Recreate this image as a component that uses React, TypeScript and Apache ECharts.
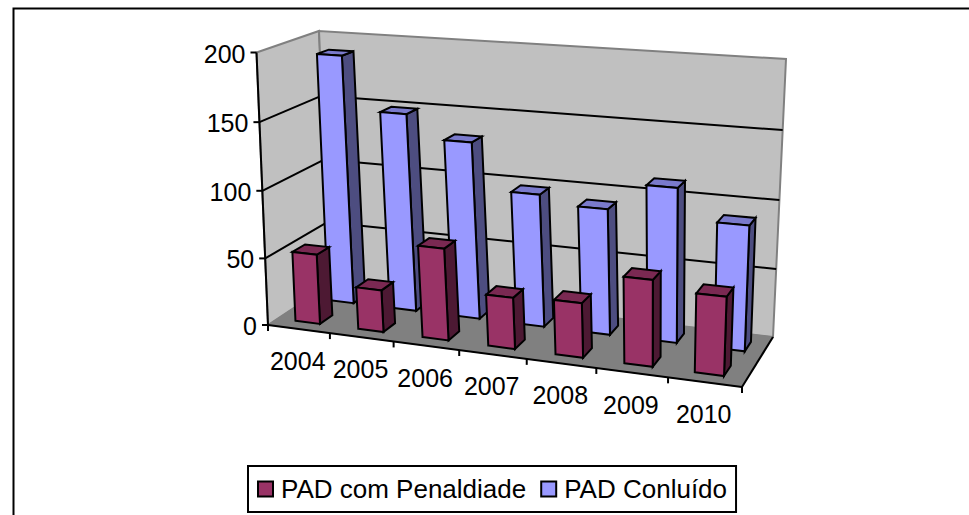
import React, { useEffect, useRef } from "react";
import * as echarts from "echarts";

const categories = ["2004", "2005", "2006", "2007", "2008", "2009", "2010"];
const penalidade = [52, 31, 67, 37, 39, 61, 55];
const concluido = [189, 149, 132, 98, 92, 112, 90];
const yTicks = [0, 50, 100, 150, 200];
const seriesNames = ["PAD com Penaldiade", "PAD Conluído"];

const FLOOR = [[268, 325], [742, 387], [773, 337], [330, 284]];
const TOP = [[256.5, 52.5], [755, 88], [786, 59], [319, 31]];
const FONT = "'Liberation Sans', Arial, sans-serif";
const FS = 25;

function homography(q: number[][]) {
  const [[x0, y0], [x1, y1], [x2, y2], [x3, y3]] = q;
  const dx1 = x1 - x2, dx2 = x3 - x2, sx = x0 - x1 + x2 - x3;
  const dy1 = y1 - y2, dy2 = y3 - y2, sy = y0 - y1 + y2 - y3;
  const den = dx1 * dy2 - dx2 * dy1;
  const g = (sx * dy2 - dx2 * sy) / den;
  const h = (dx1 * sy - sx * dy1) / den;
  const a = x1 - x0 + g * x1, b = x3 - x0 + h * x3, c = x0;
  const d = y1 - y0 + g * y1, e = y3 - y0 + h * y3, f = y0;
  return (u: number, v: number) => {
    const w = g * u + h * v + 1;
    return [(a * u + b * v + c) / w, (d * u + e * v + f) / w];
  };
}
const floorH = homography(FLOOR);
const topH = homography(TOP);

// u: category position 0..1, d: depth 0..1, t: value fraction 0..1
function project(u: number, d: number, t: number) {
  const p = floorH(u, d), q = topH(u, d);
  const tt = t - 0.03 * t * (1 - t);
  return [p[0] + (q[0] - p[0]) * tt, p[1] + (q[1] - p[1]) * tt];
}

// normalised position from the hidden cartesian axes
function norm(api: any, params: any, cat: number, value: number) {
  const pt = api.coord([cat, value]);
  const size = api.size([1, 0]);
  const cs = params.coordSys;
  return {
    u: (pt[0] - cs.x) / cs.width,
    t: (cs.y + cs.height - pt[1]) / cs.height,
    bw: size[0] / cs.width,
  };
}

function barRender(d0: number, d1: number, bulge: number, shift: number, half: number, front: string, side: string, top: string) {
  return (params: any, api: any) => {
    const { u, t, bw } = norm(api, params, api.value(0), api.value(1));
    const uc = u + bulge * u * (1 - u) + shift;
    const u0 = uc - bw * half, u1 = uc + bw * half;
    const stroke = { stroke: "#000", lineWidth: 2, lineJoin: "miter" };
    const poly = (pts: number[][], fill: string) => ({
      type: "polygon", shape: { points: pts }, style: { fill, ...stroke },
    });
    return {
      type: "group",
      children: [
        poly([project(u1, d0, 0), project(u1, d1, 0), project(u1, d1, t), project(u1, d0, t)], side),
        poly([project(u0, d0, t), project(u1, d0, t), project(u1, d1, t), project(u0, d1, t)], top),
        poly([project(u0, d0, 0), project(u1, d0, 0), project(u1, d0, t), project(u0, d0, t)], front),
      ],
    };
  };
}

const seg = (a: number[], b: number[], stroke: string, lineWidth: number) => ({
  type: "line",
  shape: { x1: a[0], y1: a[1], x2: b[0], y2: b[1] },
  style: { stroke, lineWidth },
});

function App() {
  const ref = useRef<HTMLDivElement>(null);
  useEffect(() => {
    const chart = echarts.init(ref.current!, undefined, { renderer: "svg" });
    chart.setOption({
      animation: false,
      backgroundColor: "#fff",
      grid: { left: 100, right: 100, top: 100, bottom: 100 },
      xAxis: { type: "category", data: categories, show: false },
      yAxis: { type: "value", min: 0, max: 200, show: false },
      legend: {
        data: seriesNames,
        left: 248,
        top: 466,
        width: 486,
        orient: "horizontal",
        padding: [10, 9, 10, 9],
        itemGap: 14,
        itemWidth: 15,
        itemHeight: 15,
        borderColor: "#000",
        borderWidth: 2,
        backgroundColor: "#fff",
        icon: "rect",
        textStyle: { fontFamily: FONT, fontSize: 26, color: "#000", padding: [0, 0, 0, 3] },
      },
      graphic: [
        {
          type: "polyline",
          silent: true,
          shape: { points: [[13.5, 515], [13.5, 8.5], [969, 8.5]] },
          style: { fill: "none", stroke: "#000", lineWidth: 2 },
        },
      ],
      series: [
        {
          // walls and floor
          type: "custom",
          coordinateSystem: "cartesian2d",
          silent: true,
          z: 1,
          data: [[0, 0]],
          renderItem: () => ({
            type: "group",
            children: [
              { type: "polygon", shape: { points: [project(0, 0, 0), project(0, 1, 0), project(0, 1, 1), project(0, 0, 1)] }, style: { fill: "#C0C0C0", stroke: "#808080", lineWidth: 2 } },
              { type: "polygon", shape: { points: [project(0, 1, 0), project(1, 1, 0), project(1, 1, 1), project(0, 1, 1)] }, style: { fill: "#C0C0C0", stroke: "#808080", lineWidth: 2 } },
              { type: "polygon", shape: { points: [project(0, 0, 0), project(1, 0, 0), project(1, 1, 0), project(0, 1, 0)] }, style: { fill: "#808080", stroke: "#808080", lineWidth: 1 } },
              seg(project(0, 0, 0), project(0, 0, 1), "#000", 2),
              seg(project(0, 0, 0), project(1, 0, 0), "#000", 2),
              seg(project(1, 0, 0), project(1, 1, 0), "#000", 2),
            ],
          }),
        },
        {
          // value gridlines, ticks and labels
          type: "custom",
          coordinateSystem: "cartesian2d",
          silent: true,
          z: 2,
          data: yTicks.map((v) => [0, v]),
          renderItem: (params: any, api: any) => {
            const value = api.value(1);
            const { t } = norm(api, params, 0, value);
            const a = project(0, 0, t), b = project(0, 1, t), c = project(1, 1, t);
            const children: any[] = [
              seg([a[0] - 6, a[1]], a, "#000", 2),
              {
                type: "text",
                style: { text: String(value), x: a[0] - 11, y: a[1] + 1, align: "right", verticalAlign: "middle", fontFamily: FONT, fontSize: FS, fill: "#000" },
              },
            ];
            if (value > 0 && value < 200) {
              children.push(seg(a, b, "#000", 2), seg(b, c, "#000", 2));
            }
            return { type: "group", children };
          },
        },
        {
          // category ticks and labels
          type: "custom",
          coordinateSystem: "cartesian2d",
          silent: true,
          z: 2,
          data: categories.map((_, i) => [i, 0]),
          renderItem: (params: any, api: any) => {
            const i = api.value(0);
            const { u, bw } = norm(api, params, i, 0);
            const p = project(u, 0, 0), r = project(u + bw / 2, 0, 0);
            const children: any[] = [
              seg(r, [r[0], r[1] + 6], "#000", 2),
              {
                type: "text",
                style: { text: categories[i], x: p[0] - 1, y: p[1] + 32, align: "center", verticalAlign: "middle", fontFamily: FONT, fontSize: FS, fill: "#000" },
              },
            ];
            if (i === 0) {
              const l = project(u - bw / 2, 0, 0);
              children.push(seg(l, [l[0], l[1] + 6], "#000", 2));
            }
            return { type: "group", children };
          },
        },
        {
          name: seriesNames[1],
          type: "custom",
          coordinateSystem: "cartesian2d",
          silent: true,
          z: 3,
          itemStyle: { color: "#9999FF", borderColor: "#000", borderWidth: 2 },
          data: concluido.map((v, i) => [i, v]),
          renderItem: barRender(0.65, 0.85, 0.04, 0.002, 0.215, "#9999FF", "#4D4D80", "#7A7ACC"),
        },
        {
          name: seriesNames[0],
          type: "custom",
          coordinateSystem: "cartesian2d",
          silent: true,
          z: 4,
          itemStyle: { color: "#993366", borderColor: "#000", borderWidth: 2 },
          data: penalidade.map((v, i) => [i, v]),
          renderItem: barRender(0.15, 0.35, 0.022, -0.003, 0.2, "#993366", "#4D1933", "#7A2952"),
        },
      ],
    });
    return () => chart.dispose();
  }, []);
  return <div ref={ref} style={{ position: "fixed", left: 0, top: 0, width: 969, height: 515 }} />;
}

export default App;
